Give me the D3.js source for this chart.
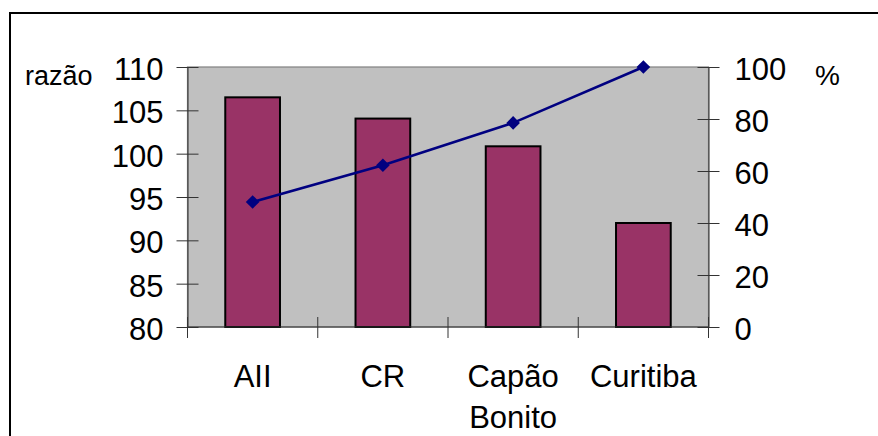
<!DOCTYPE html>
<html>
<head>
<meta charset="utf-8">
<script src="https://cdn.jsdelivr.net/npm/d3@7"></script>
<style>
  html, body { margin: 0; padding: 0; background: #fff; }
  svg { display: block; font-family: "Liberation Sans", Arial, sans-serif; }
</style>
</head>
<body>
<svg id="chart" width="878" height="436"></svg>
<script>
// Categories (multi-line labels split on "\n")
const categories = ["AII", "CR", "Capão\nBonito", "Curitiba"];
// Ratio per category (left axis, bars)
const razao = [106.5, 104.05, 100.85, 92.0];
// Cumulative percentage (right axis, line)
const percent = [48.1, 62.2, 78.5, 100];
// Axis ticks
const leftTicks = [80, 85, 90, 95, 100, 105, 110];
const rightTicks = [0, 20, 40, 60, 80, 100];

const svg = d3.select("#chart");
const plot = { left: 187.5, right: 708.5, top: 67, bottom: 327 };

// Outer frame (runs off the right and bottom edges)
svg.append("rect")
  .attr("x", 10).attr("y", 13)
  .attr("width", 900).attr("height", 460)
  .attr("fill", "none").attr("stroke", "#000").attr("stroke-width", 2);

const x = d3.scaleBand()
  .domain(categories)
  .range([plot.left, plot.right])
  .paddingInner(0).paddingOuter(0);

const yL = d3.scaleLinear().domain([80, 110]).range([plot.bottom, plot.top]);
const yR = d3.scaleLinear().domain([0, 100]).range([plot.bottom, plot.top]);

// Plot area background
svg.append("rect")
  .attr("x", plot.left).attr("y", plot.top)
  .attr("width", plot.right - plot.left).attr("height", plot.bottom - plot.top)
  .attr("fill", "#C0C0C0").attr("stroke", "#808080").attr("stroke-width", 1.2);

// Bars
const barW = x.bandwidth() * 0.42;
svg.append("g").selectAll("rect")
  .data(razao)
  .join("rect")
  .attr("x", (d, i) => x(categories[i]) + (x.bandwidth() - barW) / 2)
  .attr("y", d => yL(d))
  .attr("width", barW)
  .attr("height", d => yL(80) - yL(d))
  .attr("fill", "#993366")
  .attr("stroke", "#000")
  .attr("stroke-width", 2);

// Line
const cx = (i) => x(categories[i]) + x.bandwidth() / 2;
svg.append("path")
  .datum(percent)
  .attr("d", d3.line().x((d, i) => cx(i)).y(d => yR(d)))
  .attr("fill", "none")
  .attr("stroke", "#000080")
  .attr("stroke-width", 2.6);

// Diamond markers
svg.append("g").selectAll("path")
  .data(percent)
  .join("path")
  .attr("d", d3.symbol().type(d3.symbolDiamond2).size(118))
  .attr("transform", (d, i) => `translate(${cx(i)},${yR(d)})`)
  .attr("fill", "#000080");

// Left axis
const leftAxis = d3.axisLeft(yL).tickValues(leftTicks).tickSizeInner(11).tickSizeOuter(0).tickPadding(13);
const gL = svg.append("g").attr("transform", `translate(${plot.left},0)`).call(leftAxis);
gL.select(".domain").attr("stroke", "#333");
gL.selectAll(".tick line").attr("x2", -11).attr("x1", 11).attr("stroke", "#333");
gL.selectAll(".tick text").attr("font-size", 31).attr("fill", "#000")
  .attr("font-family", "Liberation Sans, Arial, sans-serif").attr("dy", "0.4em");

// Right axis
const rightAxis = d3.axisRight(yR).tickValues(rightTicks).tickSizeInner(11).tickSizeOuter(0).tickPadding(15);
const gR = svg.append("g").attr("transform", `translate(${plot.right},0)`).call(rightAxis);
gR.select(".domain").attr("stroke", "#333");
gR.selectAll(".tick line").attr("x1", -11).attr("x2", 11).attr("stroke", "#333");
gR.selectAll(".tick text").attr("font-size", 31).attr("fill", "#000")
  .attr("font-family", "Liberation Sans, Arial, sans-serif").attr("dy", "0.4em");

// Bottom axis: ticks at band boundaries, labels centred in bands
const gB = svg.append("g");
gB.append("line")
  .attr("x1", plot.left).attr("x2", plot.right)
  .attr("y1", plot.bottom).attr("y2", plot.bottom)
  .attr("stroke", "#333");
const boundaries = categories.map(c => x(c)).concat([x(categories[categories.length - 1]) + x.bandwidth()]);
gB.selectAll("line.tk")
  .data(boundaries)
  .join("line")
  .attr("class", "tk")
  .attr("x1", d => d).attr("x2", d => d)
  .attr("y1", plot.bottom - 10).attr("y2", plot.bottom + 11)
  .attr("stroke", "#333");

const labels = gB.selectAll("text")
  .data(categories)
  .join("text")
  .attr("text-anchor", "middle")
  .attr("font-size", 31)
  .attr("fill", "#000");
labels.each(function (c, i) {
  const t = d3.select(this);
  c.split("\n").forEach((line, j) => {
    t.append("tspan")
      .attr("x", cx(i))
      .attr("y", 387 + j * 41)
      .text(line);
  });
});

// Axis titles
svg.append("text")
  .attr("x", 25).attr("y", 85)
  .attr("font-size", 27).attr("fill", "#000")
  .text("razão");
svg.append("text")
  .attr("x", 815).attr("y", 85)
  .attr("font-size", 28).attr("fill", "#000")
  .text("%");
</script>
</body>
</html>
